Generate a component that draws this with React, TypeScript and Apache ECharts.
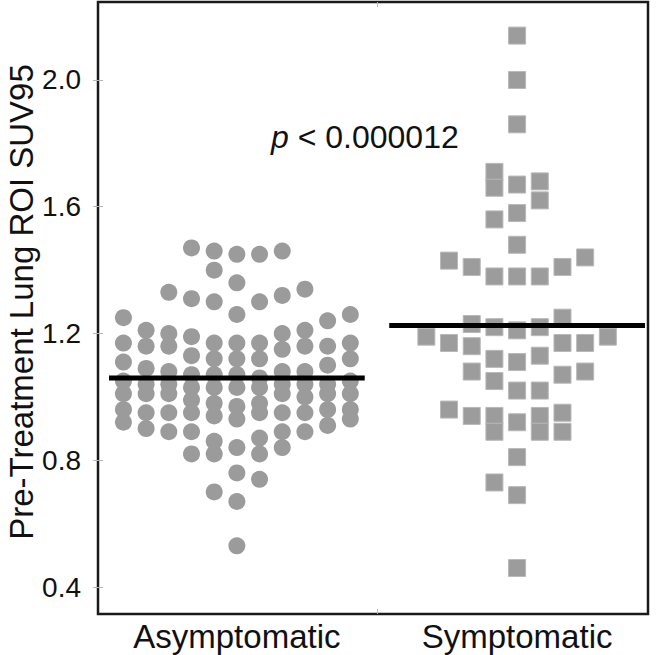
import React, { useEffect, useRef } from "react";
import * as echarts from "echarts";

// Group names
const categories = ["Asymptomatic", "Symptomatic"];

// Asymptomatic beeswarm, one array per column (left to right)
const asymColumns: number[][] = [
  [1.25, 1.17, 1.11, 1.05, 1.01, 0.96, 0.92],
  [1.21, 1.16, 1.09, 1.04, 1.01, 0.95, 0.9],
  [1.33, 1.2, 1.16, 1.08, 1.04, 1.01, 0.95, 0.89],
  [1.47, 1.31, 1.19, 1.13, 1.07, 1.03, 0.99, 0.95, 0.89, 0.82],
  [1.46, 1.4, 1.3, 1.17, 1.12, 1.07, 1.03, 0.98, 0.94, 0.86, 0.82, 0.7],
  [1.45, 1.36, 1.26, 1.17, 1.12, 1.07, 1.03, 0.97, 0.93, 0.84, 0.76, 0.67, 0.53],
  [1.45, 1.3, 1.17, 1.12, 1.06, 1.03, 0.98, 0.95, 0.87, 0.82, 0.74],
  [1.46, 1.32, 1.2, 1.15, 1.08, 1.04, 1.01, 0.95, 0.89, 0.84],
  [1.34, 1.21, 1.16, 1.08, 1.04, 1.0, 0.95, 0.89],
  [1.24, 1.16, 1.1, 1.04, 1.01, 0.96, 0.91],
  [1.26, 1.17, 1.12, 1.05, 1.01, 0.96, 0.93],
];

// Symptomatic beeswarm, one array per column (left to right)
const symColumns: number[][] = [
  [1.19],
  [1.43, 1.17, 0.96],
  [1.41, 1.23, 1.16, 1.08, 0.94],
  [1.71, 1.66, 1.56, 1.38, 1.22, 1.12, 1.05, 0.94, 0.89, 0.73],
  [2.14, 2.0, 1.86, 1.67, 1.58, 1.48, 1.38, 1.21, 1.11, 1.02, 0.92, 0.81, 0.69, 0.46],
  [1.68, 1.62, 1.38, 1.22, 1.13, 1.02, 0.94, 0.89],
  [1.41, 1.25, 1.17, 1.07, 0.95, 0.89],
  [1.44, 1.17, 1.08],
  [1.19],
];

// Group means (horizontal bars)
const groupMeans = [1.06, 1.225];

// Y tick labels
const yTicks = [0.4, 0.8, 1.2, 1.6, 2.0];

const yTitle = "Pre-Treatment Lung ROI SUV95";
const pText = "p < 0.000012";

// layout constants
const groupCenters = [0.505, 1.524];
const colSpacing = 0.0825;
const meanHalfWidth = 0.465;
const dividerTick = 1.015;

function columnsToPoints(cols: number[][], center: number): number[][] {
  const pts: number[][] = [];
  const n = cols.length;
  cols.forEach((col, i) => {
    const x = center + (i - (n - 1) / 2) * colSpacing;
    col.forEach((v) => pts.push([x, v]));
  });
  return pts;
}

export default function App() {
  const ref = useRef<HTMLDivElement>(null);

  useEffect(() => {
    if (!ref.current) return;
    const chart = echarts.init(ref.current, null, { renderer: "svg" });
    const font = "'Liberation Sans', Arial, Helvetica, sans-serif";
    const tickStyle = { show: true, inside: true, length: 5, lineStyle: { color: "#b5b5b5", width: 1 } };

    const option: any = {
      animation: false,
      backgroundColor: "#ffffff",
      grid: {
        left: 98,
        right: 10,
        top: 2,
        bottom: 41,
        show: true,
        borderColor: "#1a1a1a",
        borderWidth: 2.5,
        backgroundColor: "transparent",
        containLabel: false,
        outerBoundsMode: "none",
      },
      xAxis: [
        {
          type: "value",
          min: 0,
          max: 2,
          position: "bottom",
          axisLine: { show: false },
          splitLine: { show: false },
          axisTick: { ...tickStyle, customValues: [dividerTick] },
          axisLabel: {
            customValues: groupCenters,
            formatter: (v: number) => {
              const idx = groupCenters.findIndex((c) => Math.abs(c - v) < 1e-6);
              return idx >= 0 ? categories[idx] : "";
            },
            fontFamily: font,
            fontSize: 33,
            color: "#111",
            margin: 6,
          },
        },
        {
          type: "value",
          min: 0,
          max: 2,
          position: "top",
          axisLine: { show: false },
          splitLine: { show: false },
          axisTick: { ...tickStyle, customValues: [dividerTick] },
          axisLabel: { show: false },
        },
      ],
      yAxis: [
        {
          type: "value",
          min: 0.315,
          max: 2.246,
          position: "left",
          axisLine: { show: false },
          splitLine: { show: false },
          axisTick: { ...tickStyle, customValues: yTicks },
          axisLabel: {
            customValues: yTicks,
            formatter: (v: number) => v.toFixed(1),
            fontFamily: font,
            fontSize: 28,
            color: "#111",
            margin: 17,
          },
        },
        {
          type: "value",
          min: 0.315,
          max: 2.246,
          position: "right",
          axisLine: { show: false },
          splitLine: { show: false },
          axisTick: { ...tickStyle, customValues: yTicks },
          axisLabel: { show: false },
        },
      ],
      series: [
        {
          type: "scatter",
          symbol: "circle",
          symbolSize: 17,
          itemStyle: { color: "#9b9b9b", opacity: 1 },
          data: columnsToPoints(asymColumns, groupCenters[0]),
          z: 2,
        },
        {
          type: "scatter",
          symbol: "rect",
          symbolSize: 17,
          itemStyle: { color: "#9c9c9c", borderColor: "#b8b8b8", borderWidth: 1, opacity: 1 },
          data: columnsToPoints(symColumns, groupCenters[1]),
          z: 2,
        },
        ...groupMeans.map((m, i) => ({
          type: "line",
          symbol: "none",
          lineStyle: { color: "#000", width: 5 },
          data: [
            [groupCenters[i] - meanHalfWidth, m],
            [groupCenters[i] + meanHalfWidth, m],
          ],
          z: 5,
        })),
      ],
      graphic: [
        {
          type: "text",
          x: 21,
          y: 302,
          rotation: Math.PI / 2,
          style: {
            text: yTitle,
            fontFamily: font,
            fontSize: 33,
            lineHeight: 34,
            fill: "#111",
            align: "center",
            verticalAlign: "middle",
          },
          z: 10,
        },
        {
          type: "text",
          x: 271,
          y: 137,
          style: {
            text: "{i|p}" + pText.slice(1),
            rich: {
              i: { fontStyle: "italic", fontFamily: font, fontSize: 32, fill: "#111" },
            },
            fontFamily: font,
            fontSize: 32,
            fill: "#111",
            verticalAlign: "middle",
            align: "left",
          },
          z: 10,
        },
      ],
    };
    chart.setOption(option);
    return () => chart.dispose();
  }, []);

  return (
    <div
      ref={ref}
      style={{ position: "fixed", left: 0, top: 0, width: 658, height: 655, background: "#fff" }}
    />
  );
}
